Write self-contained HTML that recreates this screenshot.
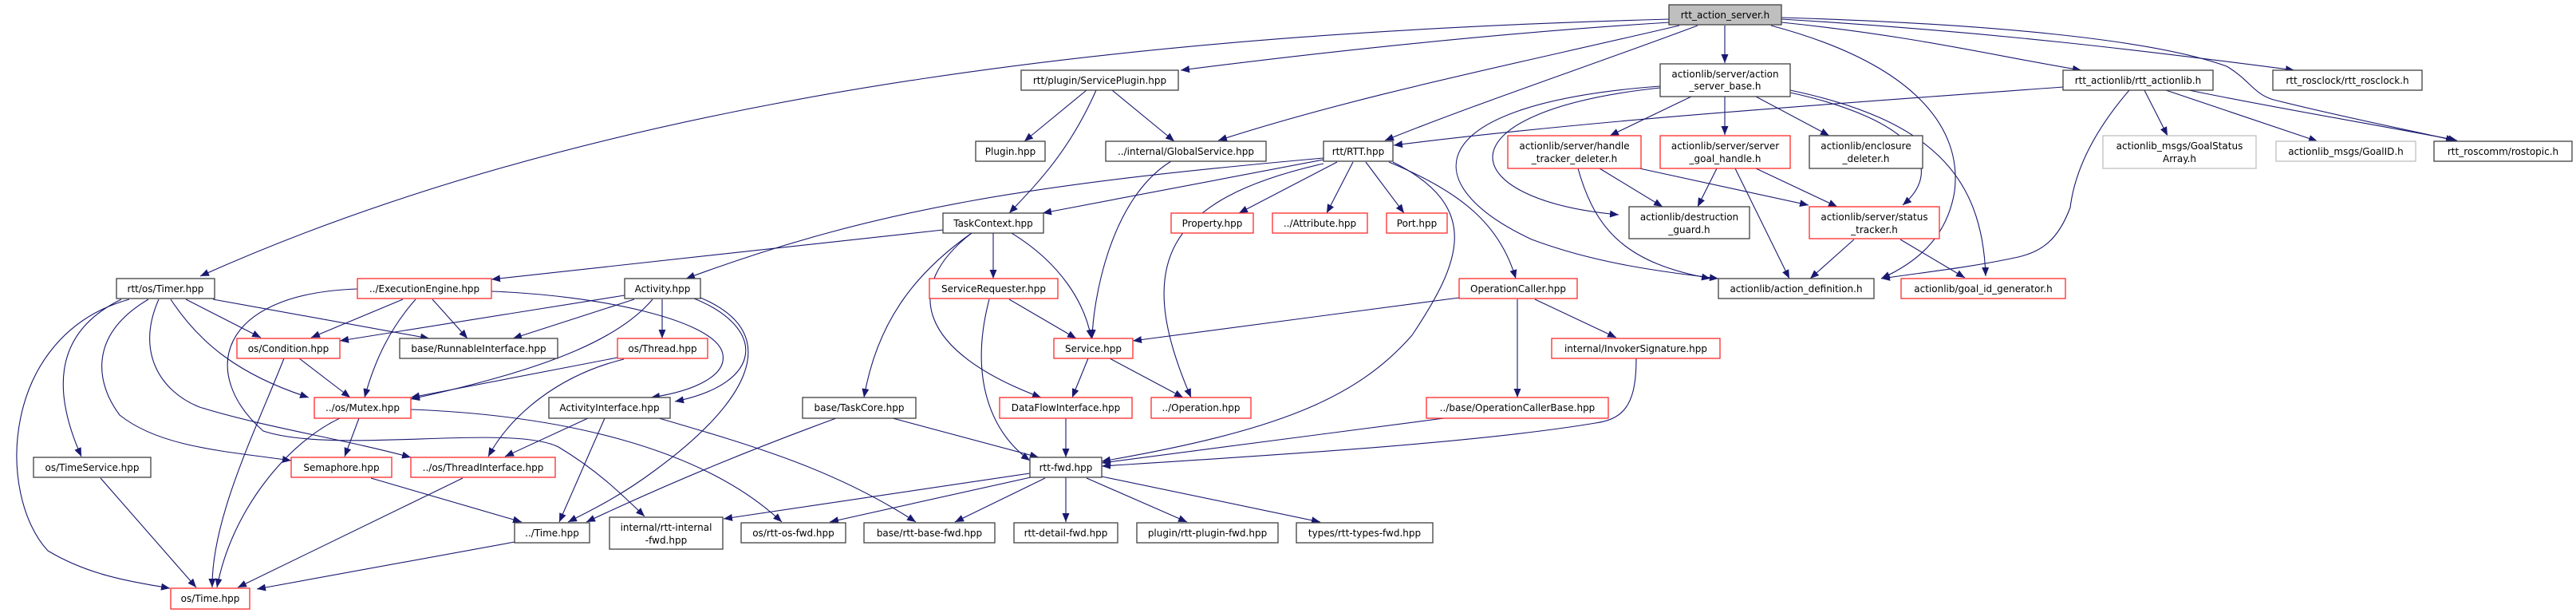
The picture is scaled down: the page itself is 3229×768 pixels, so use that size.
<!DOCTYPE html>
<html><head><meta charset="utf-8"><style>
html,body{margin:0;padding:0;background:#fff;}
svg{display:block;}
text{font-family:"DejaVu Sans","Liberation Sans",sans-serif;font-size:12px;fill:#000;}
.b{fill:#fff;stroke:#404040;stroke-width:1.3;}
.r{fill:#fff;stroke:#ff2a2a;stroke-width:1.3;}
.g{fill:#fff;stroke:#bfbfbf;stroke-width:1.3;}
.root{fill:#bfbfbf;stroke:#404040;stroke-width:1.3;}
path.e{fill:none;stroke:#191970;stroke-width:1.1;marker-end:url(#a);}
</style></head><body>
<svg width="3229" height="768" viewBox="0 0 3229 768" xmlns="http://www.w3.org/2000/svg">
<defs><marker id="a" markerUnits="userSpaceOnUse" markerWidth="12" markerHeight="9" refX="11" refY="4.5" orient="auto"><path d="M0,0 L11,4.5 L0,9 z" fill="#191970"/></marker></defs>

<!-- edges -->
<path class="e" d="M2093,24 C1500,40 800,100 251,346"/>
<path class="e" d="M2093,28 C1900,40 1700,60 1480,88"/>
<path class="e" d="M2105,32 C1900,80 1700,120 1527,176"/>
<path class="e" d="M2128,32 C2000,80 1850,130 1736,176"/>
<path class="e" d="M2162,32 L2162,79"/>
<path class="e" d="M2233,28 C2400,45 2500,70 2609,88"/>
<path class="e" d="M2233,24 C2500,40 2700,65 2876,88"/>
<path class="e" d="M2233,22 C2500,30 2700,50 2791,83 C2820,100 2825,118 2850,125 C2950,150 3030,165 3077,176"/>
<path class="e" d="M2220,32 C2400,80 2460,160 2450,240 C2440,300 2400,330 2358,349"/>
<path class="e" d="M2244,113 C2420,150 2485,220 2489,346"/>
<path class="e" d="M2244,116 C2400,150 2440,210 2385,257"/>
<path class="e" d="M2081,110 C1800,140 1820,250 2029,269"/>
<path class="e" d="M2081,108 C1780,130 1770,230 1920,300 C2000,330 2080,340 2154,349"/>
<path class="e" d="M2120,121 L2018,170"/>
<path class="e" d="M2162,121 L2162,169"/>
<path class="e" d="M2201,121 L2293,170"/>
<path class="e" d="M2586,109 C2300,130 2000,150 1747,182"/>
<path class="e" d="M2688,113 L2717,170"/>
<path class="e" d="M2715,113 L2905,177"/>
<path class="e" d="M2744,113 C2850,135 3000,160 3080,176"/>
<path class="e" d="M2669,113 C2620,170 2600,220 2595,260 C2580,300 2560,315 2530,322 C2470,335 2420,340 2358,349"/>
<path class="e" d="M2005,211 L2084,259"/>
<path class="e" d="M2055,211 L2267,257"/>
<path class="e" d="M1978,211 C2000,290 2040,330 2144,349"/>
<path class="e" d="M2152,211 L2128,259"/>
<path class="e" d="M2175,211 L2243,349"/>
<path class="e" d="M2201,211 L2303,259"/>
<path class="e" d="M2324,300 L2269,349"/>
<path class="e" d="M2382,300 L2463,348"/>
<path class="e" d="M1659,200 L1307,267"/>
<path class="e" d="M1659,198 C1300,230 1100,260 860,349"/>
<path class="e" d="M1676,203 L1553,267"/>
<path class="e" d="M1696,203 L1663,267"/>
<path class="e" d="M1712,203 L1760,267"/>
<path class="e" d="M1741,203 C1830,240 1880,280 1900,349"/>
<path class="e" d="M1659,205 C1460,250 1420,330 1493,498"/>
<path class="e" d="M1746,203 C1860,260 1830,330 1770,420 C1700,500 1600,540 1381,578"/>
<path class="e" d="M1829,373 L1420,427"/>
<path class="e" d="M1924,375 L2026,423"/>
<path class="e" d="M1902,375 L1902,498"/>
<path class="e" d="M2051,449 C2051,500 2040,525 2000,530 C1850,555 1600,570 1381,584"/>
<path class="e" d="M1810,524 L1381,580"/>
<path class="e" d="M1182,288 L616,350"/>
<path class="e" d="M1245,292 L1245,349"/>
<path class="e" d="M1268,292 C1330,330 1360,380 1368,424"/>
<path class="e" d="M1218,292 C1150,340 1100,400 1083,498"/>
<path class="e" d="M1218,292 C1130,360 1150,440 1305,498"/>
<path class="e" d="M1362,113 L1284,177"/>
<path class="e" d="M1394,113 L1472,177"/>
<path class="e" d="M1374,113 C1340,190 1300,230 1265,267"/>
<path class="e" d="M1468,202 C1390,250 1370,380 1369,424"/>
<path class="e" d="M1265,375 L1349,424"/>
<path class="e" d="M1240,375 C1215,470 1240,540 1291,577"/>
<path class="e" d="M1364,449 L1344,498"/>
<path class="e" d="M1391,449 L1483,498"/>
<path class="e" d="M1336,524 L1336,573"/>
<path class="e" d="M1119,524 L1302,573"/>
<path class="e" d="M1048,524 C950,560 850,600 735,654"/>
<path class="e" d="M1291,593 L907,650"/>
<path class="e" d="M1292,598 L1040,654"/>
<path class="e" d="M1310,599 L1197,654"/>
<path class="e" d="M1336,598 L1336,654"/>
<path class="e" d="M1362,599 L1488,654"/>
<path class="e" d="M1381,597 L1655,654"/>
<path class="e" d="M830,375 L830,424"/>
<path class="e" d="M783,370 L426,427"/>
<path class="e" d="M795,375 L643,424"/>
<path class="e" d="M818,375 C780,420 700,460 515,500"/>
<path class="e" d="M870,374 C960,410 960,480 846,503"/>
<path class="e" d="M616,365 C750,370 890,400 905,440 C915,470 870,490 816,498"/>
<path class="e" d="M878,373 C990,420 930,510 820,590 C780,620 740,640 712,654"/>
<path class="e" d="M774,448 L515,498"/>
<path class="e" d="M782,450 C700,470 640,520 612,572"/>
<path class="e" d="M737,524 L633,572"/>
<path class="e" d="M758,524 L701,654"/>
<path class="e" d="M826,524 C950,560 1050,590 1148,654"/>
<path class="e" d="M450,524 L432,572"/>
<path class="e" d="M426,524 C360,555 290,640 272,736"/>
<path class="e" d="M515,513 C700,520 880,560 980,654"/>
<path class="e" d="M375,449 L439,498"/>
<path class="e" d="M356,449 C320,540 265,650 266,736"/>
<path class="e" d="M505,375 L390,423"/>
<path class="e" d="M542,375 L586,424"/>
<path class="e" d="M521,375 C490,410 470,450 457,498"/>
<path class="e" d="M448,362 C270,368 250,470 330,540 C420,570 640,530 700,560 C750,590 780,620 808,647"/>
<path class="e" d="M162,375 C0,420 -5,620 60,690 C110,720 160,728 213,737"/>
<path class="e" d="M152,375 C60,420 70,500 102,572"/>
<path class="e" d="M233,375 L327,423"/>
<path class="e" d="M267,375 L538,424"/>
<path class="e" d="M214,375 C250,430 300,470 387,498"/>
<path class="e" d="M186,375 C110,420 120,480 150,520 C200,560 280,565 365,577"/>
<path class="e" d="M199,375 C170,440 200,490 250,510 C330,535 430,550 515,573"/>
<path class="e" d="M126,599 L246,736"/>
<path class="e" d="M465,599 L654,654"/>
<path class="e" d="M580,599 L298,736"/>
<path class="e" d="M645,679 L322,738"/>

<!-- nodes -->
<rect class="root" x="2092" y="6" width="141" height="25"/><text x="2162.5" y="23" text-anchor="middle">rtt_action_server.h</text>
<rect class="b" x="1280" y="88" width="197" height="25"/><text x="1378.5" y="105" text-anchor="middle">rtt/plugin/ServicePlugin.hpp</text>
<rect class="b" x="2081" y="80" width="163" height="41"/><text x="2162.5" y="97" text-anchor="middle">actionlib/server/action</text><text x="2162.5" y="112" text-anchor="middle">_server_base.h</text>
<rect class="b" x="2586" y="88" width="188" height="25"/><text x="2680" y="105" text-anchor="middle">rtt_actionlib/rtt_actionlib.h</text>
<rect class="b" x="2849" y="88" width="187" height="25"/><text x="2942.5" y="105" text-anchor="middle">rtt_rosclock/rtt_rosclock.h</text>
<rect class="b" x="1223" y="177" width="87" height="25"/><text x="1266.5" y="194" text-anchor="middle">Plugin.hpp</text>
<rect class="b" x="1386" y="177" width="201" height="25"/><text x="1486.5" y="194" text-anchor="middle">../internal/GlobalService.hpp</text>
<rect class="b" x="1659" y="177" width="87" height="25"/><text x="1702.5" y="194" text-anchor="middle">rtt/RTT.hpp</text>
<rect class="r" x="1890" y="170" width="167" height="41"/><text x="1973.5" y="187" text-anchor="middle">actionlib/server/handle</text><text x="1973.5" y="203" text-anchor="middle">_tracker_deleter.h</text>
<rect class="r" x="2081" y="170" width="163" height="41"/><text x="2162.5" y="187" text-anchor="middle">actionlib/server/server</text><text x="2162.5" y="203" text-anchor="middle">_goal_handle.h</text>
<rect class="b" x="2268" y="170" width="142" height="41"/><text x="2339" y="187" text-anchor="middle">actionlib/enclosure</text><text x="2339" y="203" text-anchor="middle">_deleter.h</text>
<rect class="g" x="2636" y="170" width="192" height="41"/><text x="2732" y="187" text-anchor="middle">actionlib_msgs/GoalStatus</text><text x="2732" y="203" text-anchor="middle">Array.h</text>
<rect class="g" x="2853" y="177" width="175" height="25"/><text x="2940.5" y="194" text-anchor="middle">actionlib_msgs/GoalID.h</text>
<rect class="b" x="3051" y="177" width="173" height="25"/><text x="3137.5" y="194" text-anchor="middle">rtt_roscomm/rostopic.h</text>
<rect class="b" x="1182" y="267" width="126" height="25"/><text x="1245" y="284" text-anchor="middle">TaskContext.hpp</text>
<rect class="r" x="1468" y="267" width="103" height="25"/><text x="1519.5" y="284" text-anchor="middle">Property.hpp</text>
<rect class="r" x="1595" y="267" width="119" height="25"/><text x="1654.5" y="284" text-anchor="middle">../Attribute.hpp</text>
<rect class="r" x="1738" y="267" width="76" height="25"/><text x="1776" y="284" text-anchor="middle">Port.hpp</text>
<rect class="b" x="2042" y="259" width="151" height="40"/><text x="2117.5" y="276" text-anchor="middle">actionlib/destruction</text><text x="2117.5" y="292" text-anchor="middle">_guard.h</text>
<rect class="r" x="2268" y="259" width="163" height="40"/><text x="2349.5" y="276" text-anchor="middle">actionlib/server/status</text><text x="2349.5" y="292" text-anchor="middle">_tracker.h</text>
<rect class="b" x="146" y="349" width="123" height="25"/><text x="207.5" y="366" text-anchor="middle">rtt/os/Timer.hpp</text>
<rect class="r" x="448" y="349" width="168" height="25"/><text x="532" y="366" text-anchor="middle">../ExecutionEngine.hpp</text>
<rect class="b" x="783" y="349" width="95" height="25"/><text x="830.5" y="366" text-anchor="middle">Activity.hpp</text>
<rect class="r" x="1165" y="349" width="161" height="25"/><text x="1245.5" y="366" text-anchor="middle">ServiceRequester.hpp</text>
<rect class="r" x="1829" y="349" width="148" height="25"/><text x="1903" y="366" text-anchor="middle">OperationCaller.hpp</text>
<rect class="b" x="2154" y="349" width="195" height="25"/><text x="2251.5" y="366" text-anchor="middle">actionlib/action_definition.h</text>
<rect class="r" x="2383" y="349" width="206" height="25"/><text x="2486" y="366" text-anchor="middle">actionlib/goal_id_generator.h</text>
<rect class="r" x="297" y="424" width="129" height="25"/><text x="361.5" y="441" text-anchor="middle">os/Condition.hpp</text>
<rect class="b" x="501" y="424" width="198" height="25"/><text x="600" y="441" text-anchor="middle">base/RunnableInterface.hpp</text>
<rect class="r" x="774" y="424" width="113" height="25"/><text x="830.5" y="441" text-anchor="middle">os/Thread.hpp</text>
<rect class="r" x="1321" y="424" width="99" height="25"/><text x="1370.5" y="441" text-anchor="middle">Service.hpp</text>
<rect class="r" x="1945" y="424" width="211" height="25"/><text x="2050.5" y="441" text-anchor="middle">internal/InvokerSignature.hpp</text>
<rect class="r" x="394" y="498" width="121" height="26"/><text x="454.5" y="515" text-anchor="middle">../os/Mutex.hpp</text>
<rect class="b" x="688" y="498" width="152" height="26"/><text x="764" y="515" text-anchor="middle">ActivityInterface.hpp</text>
<rect class="b" x="1006" y="498" width="142" height="26"/><text x="1077" y="515" text-anchor="middle">base/TaskCore.hpp</text>
<rect class="r" x="1253" y="498" width="166" height="26"/><text x="1336" y="515" text-anchor="middle">DataFlowInterface.hpp</text>
<rect class="r" x="1443" y="498" width="125" height="26"/><text x="1505.5" y="515" text-anchor="middle">../Operation.hpp</text>
<rect class="r" x="1788" y="498" width="228" height="26"/><text x="1902" y="515" text-anchor="middle">../base/OperationCallerBase.hpp</text>
<rect class="b" x="42" y="573" width="147" height="25"/><text x="115.5" y="590" text-anchor="middle">os/TimeService.hpp</text>
<rect class="r" x="365" y="573" width="126" height="25"/><text x="428" y="590" text-anchor="middle">Semaphore.hpp</text>
<rect class="r" x="515" y="573" width="181" height="25"/><text x="605.5" y="590" text-anchor="middle">../os/ThreadInterface.hpp</text>
<rect class="b" x="1291" y="573" width="90" height="25"/><text x="1336" y="590" text-anchor="middle">rtt-fwd.hpp</text>
<rect class="b" x="645" y="655" width="94" height="25"/><text x="692" y="672" text-anchor="middle">../Time.hpp</text>
<rect class="b" x="764" y="648" width="142" height="40"/><text x="835" y="665" text-anchor="middle">internal/rtt-internal</text><text x="835" y="681" text-anchor="middle">-fwd.hpp</text>
<rect class="b" x="929" y="655" width="131" height="25"/><text x="994.5" y="672" text-anchor="middle">os/rtt-os-fwd.hpp</text>
<rect class="b" x="1083" y="655" width="164" height="25"/><text x="1165" y="672" text-anchor="middle">base/rtt-base-fwd.hpp</text>
<rect class="b" x="1271" y="655" width="130" height="25"/><text x="1336" y="672" text-anchor="middle">rtt-detail-fwd.hpp</text>
<rect class="b" x="1425" y="655" width="177" height="25"/><text x="1513.5" y="672" text-anchor="middle">plugin/rtt-plugin-fwd.hpp</text>
<rect class="b" x="1625" y="655" width="171" height="25"/><text x="1710.5" y="672" text-anchor="middle">types/rtt-types-fwd.hpp</text>
<rect class="r" x="214" y="737" width="99" height="26"/><text x="263.5" y="754" text-anchor="middle">os/Time.hpp</text>
</svg>
</body></html>
